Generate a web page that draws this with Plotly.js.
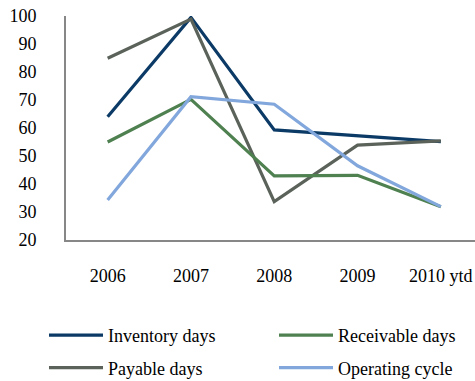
<!DOCTYPE html>
<html>
<head>
<meta charset="utf-8">
<script src="https://cdn.plot.ly/plotly-3.0.1.min.js"></script>
<style>
  html, body { margin: 0; padding: 0; background: #fff; }
  #chart { width: 475px; height: 381px; }
</style>
</head>
<body>
<div id="chart"></div>
<script>
// Working-capital cycle, days
const years = ['2006', '2007', '2008', '2009', '2010 ytd'];
const inventoryDays  = [64.0, 99.5, 59.3, 57.1, 55.1];
const receivableDays = [55.0, 70.2, 42.9, 43.1, 31.9];
const payableDays    = [84.9, 98.9, 33.7, 53.9, 55.4];
const operatingCycle = [34.3, 71.2, 68.5, 46.5, 31.9];
const yTicks = [20, 30, 40, 50, 60, 70, 80, 90, 100];

const serif = '"Liberation Serif", "Times New Roman", serif';

function series(name, values, color, legendId) {
  return {
    type: 'scatter',
    mode: 'lines',
    name: name,
    x: years,
    y: values,
    line: { color: color, width: 3.2 },
    legend: legendId,
    legendgroup: name,
    hoverinfo: 'x+y+name'
  };
}

const data = [
  series('Inventory days', inventoryDays, '#0B3A66', 'legend'),
  series('Payable days', payableDays, '#5A625A', 'legend'),
  series('Receivable days', receivableDays, '#4E8050', 'legend2'),
  series('Operating cycle', operatingCycle, '#82A7DC', 'legend2')
];

const legendBase = {
  orientation: 'v',
  xref: 'container',
  yref: 'container',
  xanchor: 'left',
  yanchor: 'top',
  y: 1 - 317 / 381,
  itemwidth: 54,
  tracegroupgap: 6,
  bgcolor: 'rgba(0,0,0,0)',
  font: { family: serif, size: 18, color: '#000' }
};

const layout = {
  width: 475,
  height: 381,
  margin: { l: 66, r: 0, t: 16, b: 141, autoexpand: false },
  paper_bgcolor: '#fff',
  plot_bgcolor: '#fff',
  showlegend: true,
  font: { family: serif, size: 18, color: '#000' },
  xaxis: {
    type: 'category',
    range: [-0.5, 4.41],
    showgrid: false,
    zeroline: false,
    showline: true,
    linecolor: '#878787',
    linewidth: 2,
    ticks: '',
    tickangle: 0,
    automargin: false,
    ticklabelstandoff: 18,
    tickfont: { family: serif, size: 18, color: '#000' }
  },
  yaxis: {
    range: [20, 100],
    tickvals: yTicks,
    ticktext: yTicks.map(String),
    showgrid: false,
    zeroline: false,
    showline: true,
    linecolor: '#878787',
    linewidth: 2,
    ticks: '',
    automargin: false,
    ticklabelstandoff: 24,
    tickfont: { family: serif, size: 18, color: '#000' }
  },
  legend: Object.assign({}, legendBase, { x: 44 / 475 }),
  legend2: Object.assign({}, legendBase, { x: 274 / 475 })
};

Plotly.newPlot('chart', data, layout, { displayModeBar: false, staticPlot: true });
</script>
</body>
</html>
